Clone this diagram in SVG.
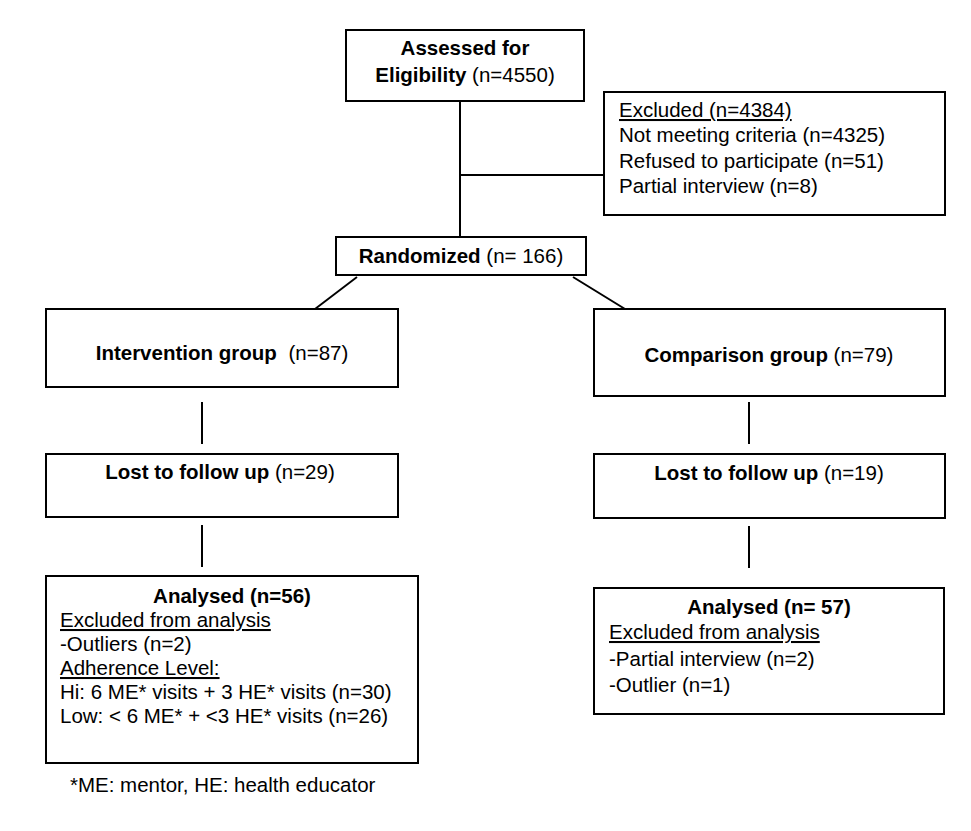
<svg xmlns="http://www.w3.org/2000/svg" width="971" height="831" viewBox="0 0 971 831">
<style>
.box{fill:#fff;stroke:#000;stroke-width:2}
.ln{stroke:#000;stroke-width:2;fill:none}
text{font-family:"Liberation Sans",Arial,Helvetica,sans-serif;font-size:20.5px;fill:#000}
.c{text-anchor:middle}
.b{font-weight:bold}
.u{text-decoration:underline}
</style>
<rect width="971" height="831" fill="#fff"/>
<g id="connectors">
<line class="ln" x1="460" y1="101" x2="460" y2="237"/>
<line class="ln" x1="460" y1="175" x2="604" y2="175"/>
<line class="ln" x1="357" y1="277" x2="315" y2="309"/>
<line class="ln" x1="573" y1="277" x2="625" y2="309"/>
<line class="ln" x1="202" y1="402" x2="202" y2="444"/>
<line class="ln" x1="749" y1="402" x2="749" y2="444"/>
<line class="ln" x1="202" y1="525" x2="202" y2="567"/>
<line class="ln" x1="749" y1="526" x2="749" y2="568"/>
</g>
<g id="assessed">
<rect class="box" x="346" y="30" width="238" height="71"/>
<text class="c b" x="465" y="55">Assessed for</text>
<text class="c" x="465" y="82"><tspan class="b">Eligibility</tspan> (n=4550)</text>
</g>
<g id="excluded">
<rect class="box" x="604" y="92" width="341" height="123"/>
<text class="u" x="619" y="117">Excluded (n=4384)</text>
<text x="619" y="142">Not meeting criteria (n=4325)</text>
<text x="619" y="168">Refused to participate (n=51)</text>
<text x="619" y="193">Partial interview (n=8)</text>
</g>
<g id="randomized">
<rect class="box" x="336" y="237" width="250" height="38"/>
<text class="c" x="461" y="263"><tspan class="b">Randomized</tspan> (n= 166)</text>
</g>
<g id="intervention">
<rect class="box" x="46" y="309" width="352" height="78"/>
<text class="c" x="222" y="360"><tspan class="b">Intervention group</tspan><tspan dx="6"> (n=87)</tspan></text>
</g>
<g id="comparison">
<rect class="box" x="594" y="309" width="351" height="87"/>
<text class="c" x="769" y="362"><tspan class="b">Comparison group</tspan> (n=79)</text>
</g>
<g id="lost-intervention">
<rect class="box" x="46" y="454" width="352" height="63"/>
<text class="c" x="220" y="479"><tspan class="b">Lost to follow up</tspan> (n=29)</text>
</g>
<g id="lost-comparison">
<rect class="box" x="594" y="454" width="351" height="64"/>
<text class="c" x="769" y="480"><tspan class="b">Lost to follow up</tspan> (n=19)</text>
</g>
<g id="analysed-intervention">
<rect class="box" x="46" y="576" width="372" height="187"/>
<text class="c b" x="232" y="603">Analysed (n=56)</text>
<text class="u" x="60" y="627">Excluded from analysis</text>
<text x="60" y="651">-Outliers (n=2)</text>
<text class="u" x="60" y="675">Adherence Level:</text>
<text x="60" y="699">Hi: 6 ME* visits + 3 HE* visits (n=30)</text>
<text x="60" y="723">Low: &lt; 6 ME* + &lt;3 HE* visits (n=26)</text>
</g>
<g id="analysed-comparison">
<rect class="box" x="594" y="588" width="350" height="126"/>
<text class="c b" x="769" y="614">Analysed (n= 57)</text>
<text class="u" x="609" y="639">Excluded from analysis</text>
<text x="609" y="666">-Partial interview (n=2)</text>
<text x="609" y="692">-Outlier (n=1)</text>
</g>
<g id="footnote">
<text x="70" y="792">*ME: mentor, HE: health educator</text>
</g>
</svg>
